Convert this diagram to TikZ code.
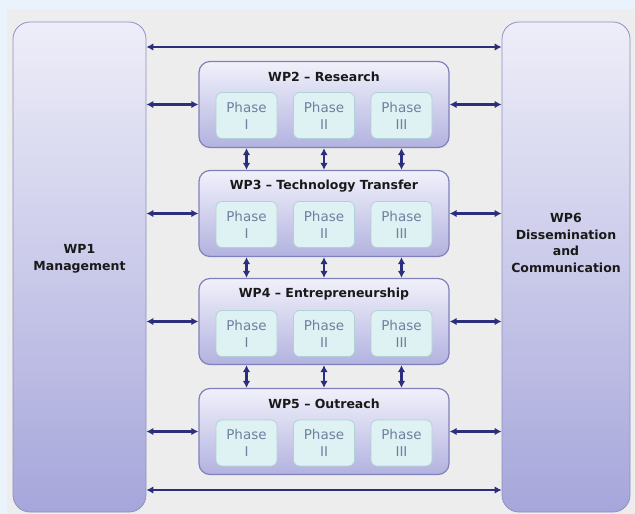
\documentclass[tikz,border=0pt]{standalone}
\usepackage{fontspec}
\setmainfont{DejaVu Sans}
\usetikzlibrary{arrows.meta}
\definecolor{outerbg}{HTML}{EAF3FB}
\definecolor{innerbg}{HTML}{EDEDED}
\definecolor{link}{HTML}{2B2D7D}
\definecolor{sidetop}{HTML}{EEEEF9}
\definecolor{sidebot}{HTML}{A6A6DB}
\definecolor{sideline}{HTML}{8F8FC4}
\definecolor{wptop}{HTML}{F1F1FB}
\definecolor{wpbot}{HTML}{B2B2E0}
\definecolor{wpline}{HTML}{8080BC}
\definecolor{phasefill}{HTML}{DEF1F3}
\definecolor{phaseline}{HTML}{B0D2D6}
\definecolor{phasetext}{HTML}{6E80A0}
\tikzset{
  side/.style={draw=sideline, line width=0.8pt, rounded corners=17pt,
    top color=sidetop, bottom color=sidebot, minimum height=490pt},
  sidetext/.style={font=\fontsize{12.5}{16.5}\selectfont\bfseries, align=center, text=black!90},
  wp/.style={draw=wpline, line width=1.2pt, rounded corners=11pt,
    top color=wptop, bottom color=wpbot, minimum width=250pt, minimum height=86pt},
  wptitle/.style={font=\fontsize{12.5}{15}\selectfont\bfseries, text=black!90},
  phase/.style={draw=phaseline, line width=0.8pt, rounded corners=6pt, fill=phasefill,
    minimum width=61pt, minimum height=46pt, inner sep=0pt, align=center,
    font=\fontsize{13.5}{17}\selectfont, text=phasetext},
  link/.style={draw=link, line width=2.6pt, {Latex[length=7pt,width=7.5pt]}-{Latex[length=7pt,width=7.5pt]}}
}
\begin{document}
\begin{tikzpicture}[x=1pt,y=-1pt]
  \fill[outerbg] (0,0) rectangle (635,514);
  \fill[innerbg] (7,9) rectangle (635,514);
  \useasboundingbox (0,0) rectangle (635,514);
  \draw
    (79.5,267) node[side, minimum width=133pt] (wp1){}
    (566,267) node[side, minimum width=128pt] (wp6){}
    (324,104.5) node[wp] (wp2){}
    (324,213.5) node[wp] (wp3){}
    (324,321.5) node[wp] (wp4){}
    (324,431.5) node[wp] (wp5){};
  \draw
    (79.5,259) node[sidetext] (t1){WP1\\Management}
    (566,243) node[sidetext] (t6){WP6\\Dissemination\\and\\Communication}
    (324,77) node[wptitle] (t2){WP2 -- Research}
    (324,186) node[wptitle] (t3){WP3 -- Technology Transfer}
    (324,294) node[wptitle] (t4){WP4 -- Entrepreneurship}
    (324,404) node[wptitle] (t5){WP5 -- Outreach};
  \draw
    (246.5,115.5) node[phase] (p21){Phase\\I}
    (324,115.5) node[phase] (p22){Phase\\II}
    (401.5,115.5) node[phase] (p23){Phase\\III}
    (246.5,224.5) node[phase] (p31){Phase\\I}
    (324,224.5) node[phase] (p32){Phase\\II}
    (401.5,224.5) node[phase] (p33){Phase\\III}
    (246.5,333.5) node[phase] (p41){Phase\\I}
    (324,333.5) node[phase] (p42){Phase\\II}
    (401.5,333.5) node[phase] (p43){Phase\\III}
    (246.5,443) node[phase] (p51){Phase\\I}
    (324,443) node[phase] (p52){Phase\\II}
    (401.5,443) node[phase] (p53){Phase\\III};
  \coordinate (top) at (324,47);
  \coordinate (bot) at (324,490);
  \begin{scope}[link]
    \draw (wp1.east |- top) to (wp6.west |- top);
    \draw (wp1.east |- bot) to (wp6.west |- bot);
    \draw (wp1.east |- wp2) to (wp2.west);
    \draw (wp1.east |- wp3) to (wp3.west);
    \draw (wp1.east |- wp4) to (wp4.west);
    \draw (wp1.east |- wp5) to (wp5.west);
    \draw (wp2.east) to (wp6.west |- wp2);
    \draw (wp3.east) to (wp6.west |- wp3);
    \draw (wp4.east) to (wp6.west |- wp4);
    \draw (wp5.east) to (wp6.west |- wp5);
    \draw (wp2.south -| p21) to (wp3.north -| p31);
    \draw (wp2.south -| p22) to (wp3.north -| p32);
    \draw (wp2.south -| p23) to (wp3.north -| p33);
    \draw (wp3.south -| p31) to (wp4.north -| p41);
    \draw (wp3.south -| p32) to (wp4.north -| p42);
    \draw (wp3.south -| p33) to (wp4.north -| p43);
    \draw (wp4.south -| p41) to (wp5.north -| p51);
    \draw (wp4.south -| p42) to (wp5.north -| p52);
    \draw (wp4.south -| p43) to (wp5.north -| p53);
  \end{scope}
\end{tikzpicture}
\end{document}
